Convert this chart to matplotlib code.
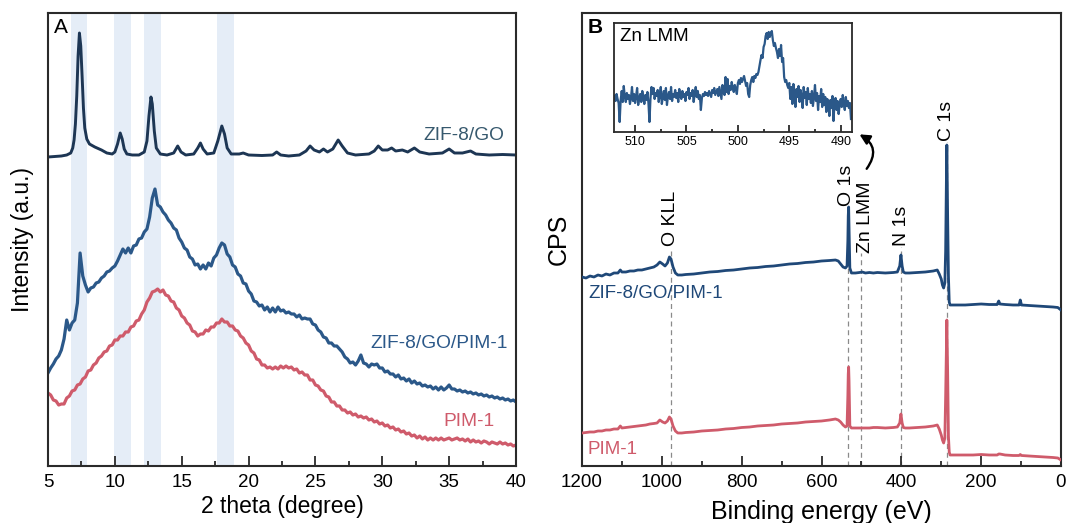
import numpy as np
import matplotlib.pyplot as plt
from matplotlib.ticker import MultipleLocator

plt.rcParams['font.family'] = ['Liberation Sans', 'DejaVu Sans']

# --- XRD (panel A) ---
# ZIF-8/GO pattern, sampled unevenly so the sharp reflections keep their shape
zif_go_2theta = [5.0, 5.5, 6.0, 6.4, 6.7, 6.85, 6.95, 7.05, 7.15, 7.25, 7.35, 7.45, 7.55,
                 7.65, 7.75, 7.9, 8.1, 8.5, 9.0, 9.4, 9.8, 10.0, 10.2, 10.4, 10.55, 10.7,
                 10.9, 11.3, 11.8, 12.2, 12.4, 12.55, 12.7, 12.8, 12.95, 13.1, 13.4, 13.9,
                 14.4, 14.7, 14.95, 15.3, 15.9, 16.2, 16.4, 16.6, 16.9, 17.4, 17.7, 18.0,
                 18.2, 18.4, 18.7, 19.3, 19.6, 20.0, 21.0, 21.8, 22.1, 22.4, 23.0, 23.8,
                 24.3, 24.6, 24.9, 25.3, 25.6, 25.9, 26.3, 26.7, 27.0, 27.4, 28.0, 29.0,
                 29.4, 29.7, 30.0, 30.4, 30.7, 31.0, 31.5, 31.9, 32.4, 32.8, 33.5, 34.5,
                 35.0, 35.4, 36.0, 36.6, 37.0, 38.0, 39.0, 40.0]
zif_go_int = [309, 309.5, 310, 311, 313, 318, 326, 342, 370, 410, 433, 420, 390,
              358, 338, 327, 322, 319, 316, 313, 312, 314, 322, 333, 327, 317,
              312, 311, 311, 314, 325, 350, 369, 362, 335, 318, 312, 311,
              313, 320, 314, 311, 312, 318, 323, 317, 312, 313, 325, 340,
              332, 318, 312, 312, 313, 311, 310.5, 311, 314, 311, 310, 311,
              315, 320, 316, 314, 317, 314, 317, 326, 320, 313, 311, 312,
              315, 320, 316, 316, 318, 315, 316, 314, 318, 314, 312, 313,
              317, 313, 313, 315, 312, 311, 311.5, 311]

# composite and neat polymer, 0.2 degree steps from 5 to 40
xrd_2theta = np.round(np.arange(5.0, 40.01, 0.2), 1)
zif_go_pim_int = [93, 98, 102, 107, 110, 116, 127, 146, 136, 143,
                  146, 163, 213, 190, 181, 174, 178, 179, 183, 184,
                  188, 190, 194, 195, 198, 200, 205, 211, 217, 213,
                  218, 213, 220, 221, 227, 228, 234, 237, 249, 268,
                  277, 261, 259, 254, 251, 246, 243, 238, 236, 228,
                  224, 218, 216, 209, 207, 201, 202, 197, 201, 197,
                  203, 200, 208, 211, 218, 223, 221, 212, 209, 201,
                  199, 192, 190, 183, 182, 175, 172, 165, 164, 160,
                  161, 156, 159, 154, 158, 154, 159, 155, 156, 153,
                  154, 152, 152, 149, 151, 147, 148, 147, 147, 142,
                  141, 136, 134, 129, 128, 123, 123, 120, 120, 117,
                  114, 109, 107, 103, 104, 101, 105, 111, 103, 102,
                  99, 102, 101, 102, 98, 98, 94, 95, 92, 92,
                  89, 91, 87, 88, 85, 87, 83, 85, 82, 83,
                  80, 81, 79, 80, 77, 79, 76, 79, 76, 78,
                  81, 77, 77, 75, 76, 74, 75, 73, 74, 72,
                  73, 71, 72, 70, 71, 69, 70, 68, 69, 67,
                  68, 66, 67, 65, 66, 64]
pim_int = [73, 71, 66, 65, 61, 62, 62, 68, 70, 75,
           76, 81, 82, 87, 89, 95, 96, 101, 103, 108,
           110, 114, 115, 120, 121, 126, 126, 130, 130, 134,
           134, 139, 140, 145, 146, 152, 156, 164, 168, 174,
           175, 177, 174, 176, 171, 170, 165, 164, 158, 156,
           150, 148, 143, 141, 135, 134, 130, 132, 132, 136,
           135, 139, 139, 143, 143, 147, 144, 144, 140, 140,
           136, 135, 130, 128, 123, 121, 115, 113, 107, 106,
           101, 101, 98, 99, 97, 99, 97, 100, 98, 100,
           98, 99, 96, 97, 93, 94, 91, 91, 86, 86,
           81, 80, 76, 75, 70, 69, 64, 64, 60, 60,
           56, 56, 53, 54, 51, 52, 49, 50, 48, 49,
           46, 47, 44, 45, 42, 43, 40, 41, 38, 39,
           36, 37, 34, 35, 32, 33, 30, 31, 28, 30,
           27, 29, 26, 28, 26, 28, 26, 28, 26, 27,
           28, 26, 27, 28, 26, 27, 25, 27, 24, 26,
           24, 25, 23, 25, 24, 22, 24, 23, 22, 24,
           22, 23, 21, 22, 20, 21]

# ZIF-8 reflections highlighted by shaded bands
bands = [(6.7, 7.9), (9.95, 11.2), (12.2, 13.45), (17.65, 18.9)]

# --- XPS survey (panel B) ---
xps_be = [1200, 1190, 1180, 1170, 1160, 1150, 1140, 1130, 1120, 1110, 1104, 1100,
          1090, 1080, 1070, 1060, 1050, 1040, 1030, 1020, 1012, 1005, 998, 992, 986,
          981, 977, 972, 966, 960, 950, 940, 920, 900, 880, 860, 840, 820, 800, 780,
          760, 740, 720, 700, 680, 660, 640, 620, 600, 580, 565, 558, 552, 546, 540,
          536, 534, 533, 532, 531, 529, 525, 515, 505, 498, 490, 480, 470, 460, 440,
          420, 410, 404, 401, 398, 395, 390, 380, 360, 340, 320, 310, 305, 300, 297,
          294, 291, 289, 287, 286, 284, 282, 280, 278, 260, 240, 220, 200, 180, 160,
          156, 153, 140, 120, 105, 102, 99, 80, 60, 40, 20, 8, 0]
xps_zif_go_pim = [189, 188, 190, 189, 191, 190, 192, 191, 193, 193, 196, 194,
                  194, 195, 195, 196, 196, 197, 198, 199, 201, 204, 202, 200, 203,
                  209, 207, 199, 193, 191, 191, 191.5, 192, 193, 194, 194.5, 195.5, 196, 197, 198,
                  198.5, 199.5, 200, 201, 202, 202.5, 203.5, 204, 205, 205.5, 206, 205, 202, 199, 198,
                  200, 225, 250, 259, 238, 198, 193, 193, 193.5, 194, 193, 193.5, 193, 193.5, 193,
                  193.5, 194, 200, 211, 200, 194, 193, 193, 193.5, 194, 195, 196, 192, 187, 181,
                  178, 183, 215, 290, 321, 250, 190, 164, 161, 161, 161, 161.5, 162, 161.5, 161.5,
                  165, 162, 161.5, 161, 161, 166, 161, 160.5, 160, 159.5, 159, 158.5, 156]
xps_pim = [33, 33.5, 34, 34, 35, 35, 36, 36, 37, 37, 40, 38,
           38.5, 39, 39.5, 40, 40.5, 41, 42, 42.5, 43, 46, 44, 43, 45,
           49, 47, 40, 35, 33, 33, 33.5, 34, 35, 35.5, 36, 37, 37.5, 38.5, 39,
           40, 40.5, 41, 42, 42.5, 43, 44, 44.5, 45, 46, 47, 46, 44, 41, 39,
           40, 70, 92, 99, 85, 40, 38, 38, 38, 38, 38, 38, 38.5, 38.5, 38,
           38.5, 39, 43, 52, 43, 38.5, 38, 38, 38.5, 39, 40, 41, 37, 31, 26,
           23, 28, 70, 120, 146, 95, 30, 14, 11, 11, 11, 11, 11.5, 11, 11,
           12, 12, 11, 10.5, 10.5, 11.5, 10.5, 10, 9.5, 9, 8.5, 8, 6]

# survey peak assignments: label, binding energy, label offset, label foot, top of dashed guide
peak_names = ['O KLL', 'O 1s', 'Zn LMM', 'N 1s', 'C 1s']
peak_be = [978, 533, 500, 400, 286]
label_shift = [0, 5, -9, 0, 0]
label_foot = [220, 260, 213, 220, 325]
guide_top = [218, 259, 213, 219, 324]

# Zn LMM high-resolution region, 0.1 eV steps from 512 to 489 eV
zn_be = np.round(np.arange(512.0, 488.95, -0.1), 1)
zn_int = [36, 31, 38, 33, 29, 10, 32, 41, 30, 46,
          35, 30, 39, 33, 37, 28, 34, 45, 31, 38,
          29, 36, 44, 27, 33, 38, 30, 41, 35, 28,
          37, 32, 40, 29, 10, 34, 45, 38, 44, 33,
          39, 36, 42, 30, 37, 45, 28, 35, 41, 32,
          44, 27, 36, 40, 33, 45, 31, 38, 35, 42,
          34, 39, 30, 43, 36, 33, 41, 35, 38, 31,
          40, 37, 44, 33, 39, 36, 42, 30, 38, 45,
          35, 41, 33, 37, 22, 34, 38, 36, 40, 37,
          39, 36, 41, 38, 35, 42, 39, 44, 37, 40,
          43, 36, 45, 39, 33, 47, 41, 37, 55, 40,
          53, 38, 46, 42, 50, 44, 40, 47, 43, 38,
          49, 52, 48, 54, 50, 53, 56, 51, 46, 49,
          38, 35, 47, 52, 55, 50, 56, 54, 58, 57,
          60, 66, 72, 77, 74, 85, 88, 96, 99, 93,
          100, 95, 99, 101, 92, 86, 89, 84, 80, 74,
          83, 76, 87, 70, 74, 55, 50, 52, 47, 44,
          49, 33, 45, 28, 48, 38, 25, 43, 35, 46,
          30, 42, 36, 24, 45, 34, 40, 27, 44, 33,
          38, 29, 41, 26, 35, 47, 31, 39, 22, 36,
          30, 43, 25, 38, 27, 35, 20, 33, 28, 16,
          32, 24, 36, 11, 29, 34, 22, 31, 18, 27,
          33, 25, 37, 28, 22, 35, 26, 31, 24, 29,
          13]

navy = '#1d3654'
blue = '#2b5889'
xps_blue = '#1f4878'
red = '#cf5b6b'
band_color = '#e5edf7'

W, H = 1068, 523
fig = plt.figure(figsize=(W / 100, H / 100), dpi=100)
ax1 = fig.add_axes([48 / W, 57 / H, 468 / W, 453 / H])
ax2 = fig.add_axes([582 / W, 57 / H, 479 / W, 453 / H])
axin = fig.add_axes([614 / W, 391 / H, 238 / W, 109 / H])


def style_axes(ax, lw=1.5):
    for s in ax.spines.values():
        s.set_linewidth(lw)
        s.set_color('#2a2a2a')
    ax.tick_params(axis='x', which='both', direction='in', top=False, width=1.3, color='#2a2a2a')
    ax.tick_params(axis='y', which='both', left=False, right=False, labelleft=False)


# panel A
for lo, hi in bands:
    ax1.axvspan(lo, hi, color=band_color, lw=0, zorder=0)
ax1.plot(zif_go_2theta, zif_go_int, color=navy, lw=2.1)
ax1.plot(xrd_2theta, zif_go_pim_int, color=blue, lw=2.3)
ax1.plot(xrd_2theta, pim_int, color=red, lw=2.3)
ax1.set_xlim(5, 40)
ax1.set_ylim(0, 453)
ax1.xaxis.set_major_locator(MultipleLocator(5))
ax1.xaxis.set_minor_locator(MultipleLocator(2.5))
style_axes(ax1)
ax1.tick_params(axis='x', which='major', length=7, labelsize=13.5, pad=6)
ax1.tick_params(axis='x', which='minor', length=3.5)
ax1.set_xlabel('2 theta (degree)', fontsize=16.5, labelpad=3)
ax1.set_ylabel('Intensity (a.u.)', fontsize=16.5, labelpad=10)
ax1.text(39.1, 330, 'ZIF-8/GO', color='#37596e', fontsize=13.8, ha='right', va='center')
ax1.text(39.4, 123, 'ZIF-8/GO/PIM-1', color=blue, fontsize=13.8, ha='right', va='center')
ax1.text(38.4, 44, 'PIM-1', color=red, fontsize=13.8, ha='right', va='center')
ax1.text(0.012, 0.99, 'A', transform=ax1.transAxes, fontsize=15, ha='left', va='top')

# panel B
for be, top in zip(peak_be, guide_top):
    ax2.vlines(be, 0, top, colors='#8a8a8a', linestyles=(0, (4, 3)), lw=0.9, zorder=1)
ax2.plot(xps_be, xps_zif_go_pim, color=xps_blue, lw=2.0, zorder=3)
ax2.plot(xps_be, xps_pim, color=red, lw=2.0, zorder=3)
ax2.set_xlim(1200, 0)
ax2.set_ylim(0, 453)
ax2.xaxis.set_major_locator(MultipleLocator(200))
ax2.xaxis.set_minor_locator(MultipleLocator(100))
style_axes(ax2)
ax2.tick_params(axis='x', which='major', length=7, labelsize=13.5, pad=6)
ax2.tick_params(axis='x', which='minor', length=3.5)
ax2.set_xlabel('Binding energy (eV)', fontsize=18, labelpad=6)
ax2.set_ylabel('CPS', fontsize=18, labelpad=8)
for name, be, dx, foot in zip(peak_names, peak_be, label_shift, label_foot):
    ax2.text(be + dx, foot, name, rotation=90, fontsize=14, ha='center', va='bottom')
ax2.text(1183, 173, 'ZIF-8/GO/PIM-1', color=xps_blue, fontsize=13.5, ha='left', va='center')
ax2.text(1185, 17, 'PIM-1', color=red, fontsize=13.5, ha='left', va='center')
ax2.text(0.012, 0.99, 'B', transform=ax2.transAxes, fontsize=15, fontweight='bold',
         ha='left', va='top')
ax2.annotate('', xy=(511, 333), xytext=(491, 295),
             arrowprops=dict(arrowstyle='-|>,head_length=0.6,head_width=0.3',
                             connectionstyle='arc3,rad=0.6', color='black', lw=1.7))

# inset: Zn LMM
axin.plot(zn_be, zn_int, color=blue, lw=1.6)
axin.set_xlim(512.05, 488.9)
axin.set_ylim(0, 109)
axin.xaxis.set_major_locator(MultipleLocator(5))
axin.xaxis.set_minor_locator(MultipleLocator(2.5))
style_axes(axin, lw=1.3)
axin.tick_params(axis='x', which='major', length=5, labelsize=9, pad=3)
axin.tick_params(axis='x', which='minor', length=2.5)
axin.text(0.025, 0.95, 'Zn LMM', transform=axin.transAxes, fontsize=13.5, ha='left', va='top')

fig.savefig('out.png', dpi=100)
